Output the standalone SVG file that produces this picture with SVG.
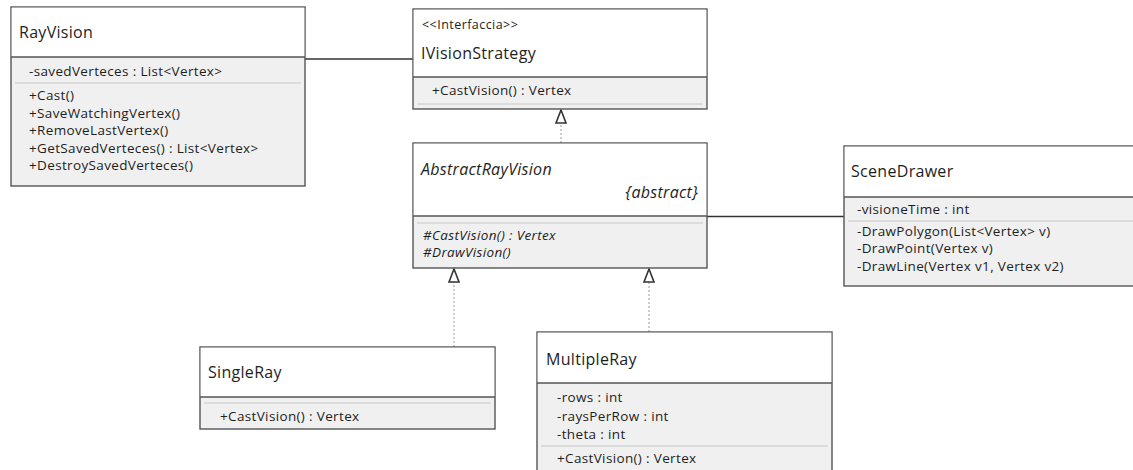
<svg xmlns="http://www.w3.org/2000/svg" width="1133" height="470" viewBox="0 0 1133 470">
<style>
.frame{fill:#f0f0f0;stroke:#555;stroke-width:1.4}
.hdr{fill:#fff}
.sep{stroke:#555;stroke-width:1.4}
.lsep{stroke:#c8c8c8;stroke-width:1}
text{font-family:"Open Sans","Noto Sans","DejaVu Sans",sans-serif;fill:#1e1e1e}
.title{font-size:16px;letter-spacing:0.3px}
.mem{font-size:13.5px;letter-spacing:0.35px}
.stereo{font-size:12.5px;letter-spacing:0.45px}
.it{font-style:italic}
.assoc{stroke:#333;stroke-width:1.3;fill:none}
.real{stroke:#9a9a9a;stroke-width:1;stroke-dasharray:2 2;fill:none}
</style>
<defs>
<marker id="tri" markerUnits="userSpaceOnUse" markerWidth="16" markerHeight="14" viewBox="-2 -2 16 14" refX="13" refY="5" orient="auto">
<path d="M0,0 L13,5 L0,10 Z" fill="#fff" stroke="#333" stroke-width="1.6"/>
</marker>
</defs>
<rect width="1133" height="470" fill="#fff"/>

<g id="connectors">
<line class="assoc" x1="305" y1="59" x2="413" y2="59"/>
<line class="assoc" x1="707" y1="216.5" x2="844" y2="216.5"/>
<path class="real" d="M561,143 L561,110" marker-end="url(#tri)"/>
<path class="real" d="M454,347 L454,269" marker-end="url(#tri)"/>
<path class="real" d="M649,332 L649,269" marker-end="url(#tri)"/>
</g>

<g id="RayVision">
<rect class="frame" x="11" y="7" width="294" height="179"/>
<rect class="hdr" x="11.7" y="7.7" width="292.6" height="49.3"/>
<line class="sep" x1="11" y1="57" x2="305" y2="57"/>
<line class="lsep" x1="15" y1="83" x2="301" y2="83"/>
<text class="title" x="19" y="38">RayVision</text>
<text class="mem" x="29" y="76">-savedVerteces : List&lt;Vertex&gt;</text>
<text class="mem" x="29" y="100">+Cast()</text>
<text class="mem" x="29" y="117.5">+SaveWatchingVertex()</text>
<text class="mem" x="29" y="135">+RemoveLastVertex()</text>
<text class="mem" x="29" y="152.5">+GetSavedVerteces() : List&lt;Vertex&gt;</text>
<text class="mem" x="29" y="170">+DestroySavedVerteces()</text>
</g>

<g id="IVisionStrategy">
<rect class="frame" x="413" y="9" width="294" height="100"/>
<rect class="hdr" x="413.7" y="9.7" width="292.6" height="67.3"/>
<line class="sep" x1="413" y1="77" x2="707" y2="77"/>
<line class="lsep" x1="417" y1="104" x2="703" y2="104"/>
<text class="stereo" x="422" y="29">&lt;&lt;Interfaccia&gt;&gt;</text>
<text class="title" x="421" y="58.5">IVisionStrategy</text>
<text class="mem" x="432" y="94.5">+CastVision() : Vertex</text>
</g>

<g id="AbstractRayVision">
<rect class="frame" x="413" y="143" width="294" height="125"/>
<rect class="hdr" x="413.7" y="143.7" width="292.6" height="72.3"/>
<line class="sep" x1="413" y1="216" x2="707" y2="216"/>
<line class="lsep" x1="417" y1="223" x2="703" y2="223"/>
<text class="title it" x="421" y="175">AbstractRayVision</text>
<text class="title it" x="698" y="198" text-anchor="end">{abstract}</text>
<text class="mem it" x="423" y="239.5">#CastVision() : Vertex</text>
<text class="mem it" x="423" y="257">#DrawVision()</text>
</g>

<g id="SceneDrawer">
<rect class="frame" x="844" y="146" width="300" height="140"/>
<rect class="hdr" x="844.7" y="146.7" width="298.6" height="50.3"/>
<line class="sep" x1="844" y1="197" x2="1144" y2="197"/>
<line class="lsep" x1="848" y1="221" x2="1133" y2="221"/>
<text class="title" x="851" y="177">SceneDrawer</text>
<text class="mem" x="857" y="214">-visioneTime : int</text>
<text class="mem" x="857" y="235.5">-DrawPolygon(List&lt;Vertex&gt; v)</text>
<text class="mem" x="857" y="253">-DrawPoint(Vertex v)</text>
<text class="mem" x="857" y="270.5">-DrawLine(Vertex v1, Vertex v2)</text>
</g>

<g id="SingleRay">
<rect class="frame" x="200" y="347" width="295" height="82"/>
<rect class="hdr" x="200.7" y="347.7" width="293.6" height="49.3"/>
<line class="sep" x1="200" y1="397" x2="495" y2="397"/>
<line class="lsep" x1="204" y1="403" x2="491" y2="403"/>
<text class="title" x="208" y="378">SingleRay</text>
<text class="mem" x="220" y="421">+CastVision() : Vertex</text>
</g>

<g id="MultipleRay">
<rect class="frame" x="537" y="332" width="295" height="150"/>
<rect class="hdr" x="537.7" y="332.7" width="293.6" height="50.3"/>
<line class="sep" x1="537" y1="383" x2="832" y2="383"/>
<line class="lsep" x1="541" y1="446" x2="828" y2="446"/>
<text class="title" x="546" y="365">MultipleRay</text>
<text class="mem" x="557" y="402">-rows : int</text>
<text class="mem" x="557" y="420.5">-raysPerRow : int</text>
<text class="mem" x="557" y="439">-theta : int</text>
<text class="mem" x="557" y="463">+CastVision() : Vertex</text>
</g>
</svg>
